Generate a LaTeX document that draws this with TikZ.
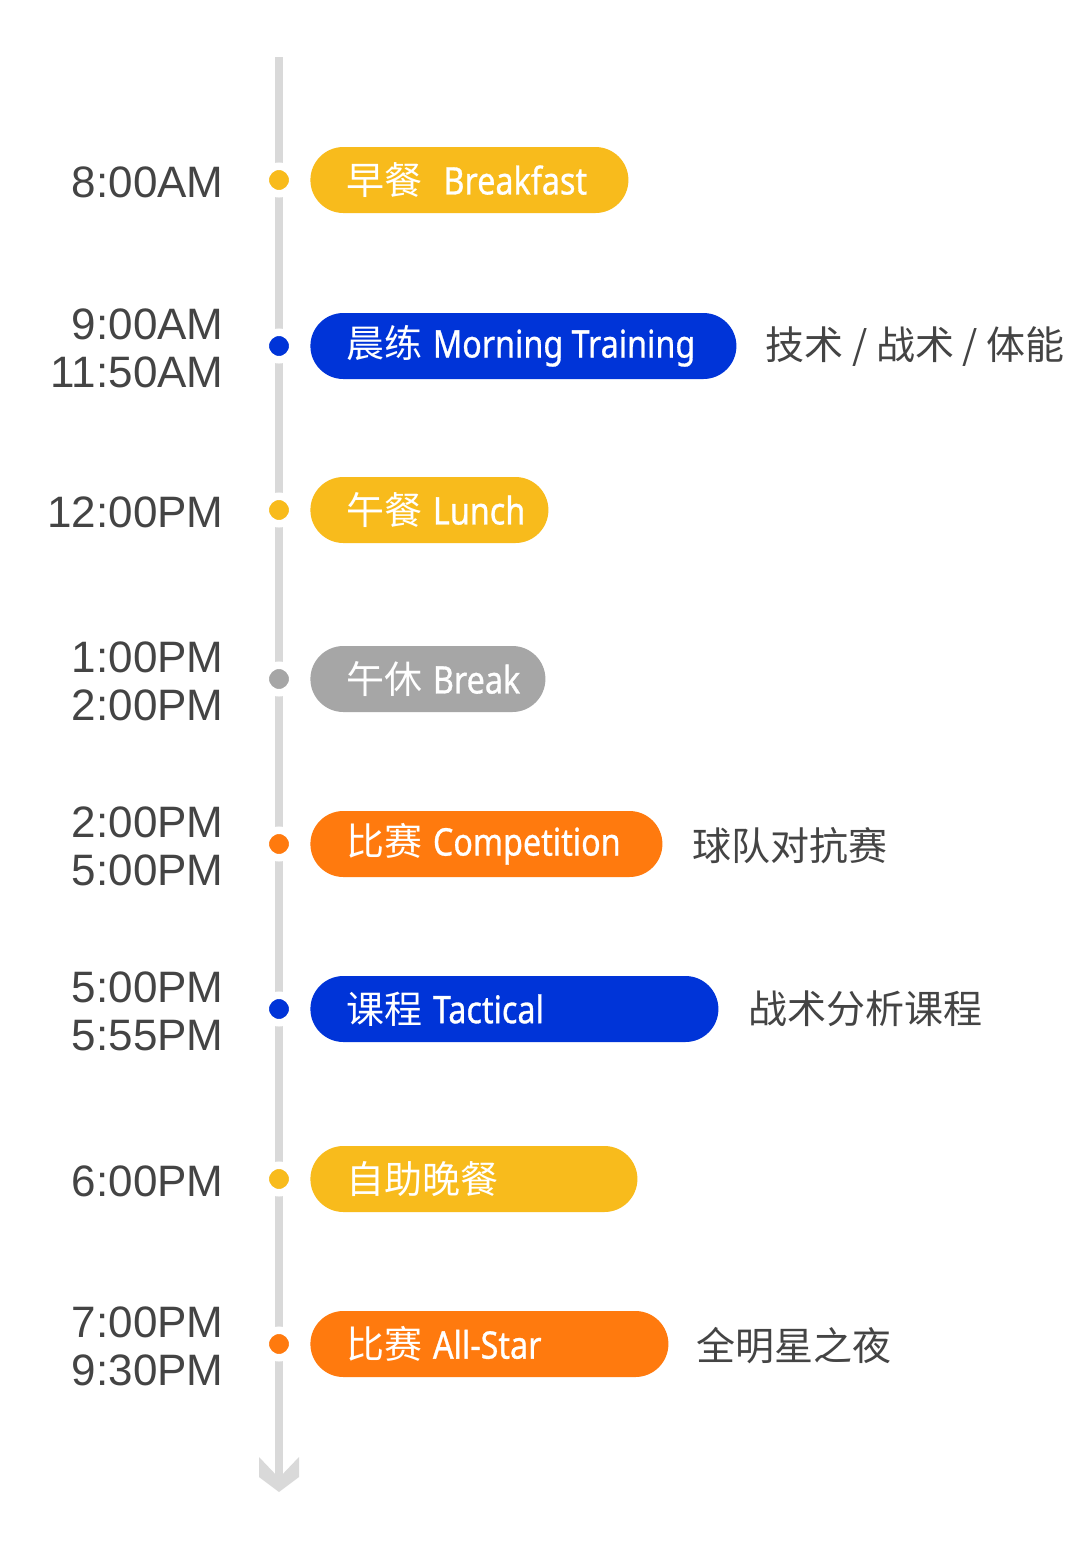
\documentclass[tikz,border=0pt]{standalone}
\usepackage{fontspec}
\setmainfont{Liberation Sans}
\newfontfamily\cjk{Noto Sans CJK SC}
\newfontfamily\cond{Noto Sans}[FakeStretch=0.85,FakeBold=0.8]
\definecolor{mealyellow}{HTML}{F8BB1C}
\definecolor{trainblue}{HTML}{0034D8}
\definecolor{restgray}{HTML}{A6A6A6}
\definecolor{gameorange}{HTML}{FF7A0E}
\definecolor{axisgray}{HTML}{D9D9D9}
\definecolor{timegray}{HTML}{444444}
\tikzset{
  pill/.style={fill=#1, rounded corners=16.5pt, minimum height=33pt, inner xsep=18pt,
    inner ysep=0pt, anchor=west, text=white, font=\fontsize{19}{22}\selectfont},
  dot/.style={circle, fill=#1, draw=white, line width=3.75pt, minimum size=13.75pt, inner sep=0pt},
  time/.style={anchor=east, align=right, inner sep=0pt, text=timegray, font=\fontsize{22}{24}\selectfont},
  note/.style={anchor=west, inner sep=0pt, text=timegray, font=\cjk\fontsize{19.5}{22}\selectfont}
}
\begin{document}
\begin{tikzpicture}[x=0.5pt,y=-0.5pt]
  \useasboundingbox[fill=white] (0,0) rectangle (1080,1544);
  \coordinate (top) at (279,57);
  \coordinate (bottom) at (279,1492);
  \draw[axisgray, line width=4pt] (top) -- ([yshift=5pt]bottom);
  \fill[axisgray] (bottom) -- +(-20,-15) -- +(-20,-35) -- +(0,-14) -- +(20,-35) -- +(20,-15) -- cycle;
  % one row per slot: dot, pill, time
  \foreach \i/\y/\c/\w/\tm/\txt in {
      1/180/mealyellow/123/{8:00AM}/{{\cjk 早餐}\ \ {\cond Breakfast}},
      2/346/trainblue/177/{9:00AM\\11:50AM}/{{\cjk 晨练} {\cond Morning Training}},
      3/510/mealyellow/83/{12:00PM}/{{\cjk 午餐} {\cond Lunch}},
      4/679/restgray/81.5/{1:00PM\\2:00PM}/{{\cjk 午休} {\cond Break}},
      5/844/gameorange/140/{2:00PM\\5:00PM}/{{\cjk 比赛} {\cond Competition}},
      6/1009/trainblue/168/{5:00PM\\5:55PM}/{{\cjk 课程} {\cond Tactical}},
      7/1179/mealyellow/127.5/{6:00PM}/{{\cjk 自助晚餐}},
      8/1344/gameorange/143/{7:00PM\\9:30PM}/{{\cjk 比赛} {\cond All-Star}}}{
    \node[dot=\c] (d\i) at (279,\y) {};
    \node[pill=\c] (p\i) at (310,\y) {\makebox[\w pt][l]{\txt}};
    \node[time] (t\i) at (224,\y+2) {\tm};
  }
  \node[note] (n2) at (765,347) {技术 / 战术 / 体能};
  \node[note] (n5) at (692,846) {球队对抗赛};
  \node[note] (n6) at (748,1009) {战术分析课程};
  \node[note] (n8) at (696,1346) {全明星之夜};
\end{tikzpicture}
\end{document}
